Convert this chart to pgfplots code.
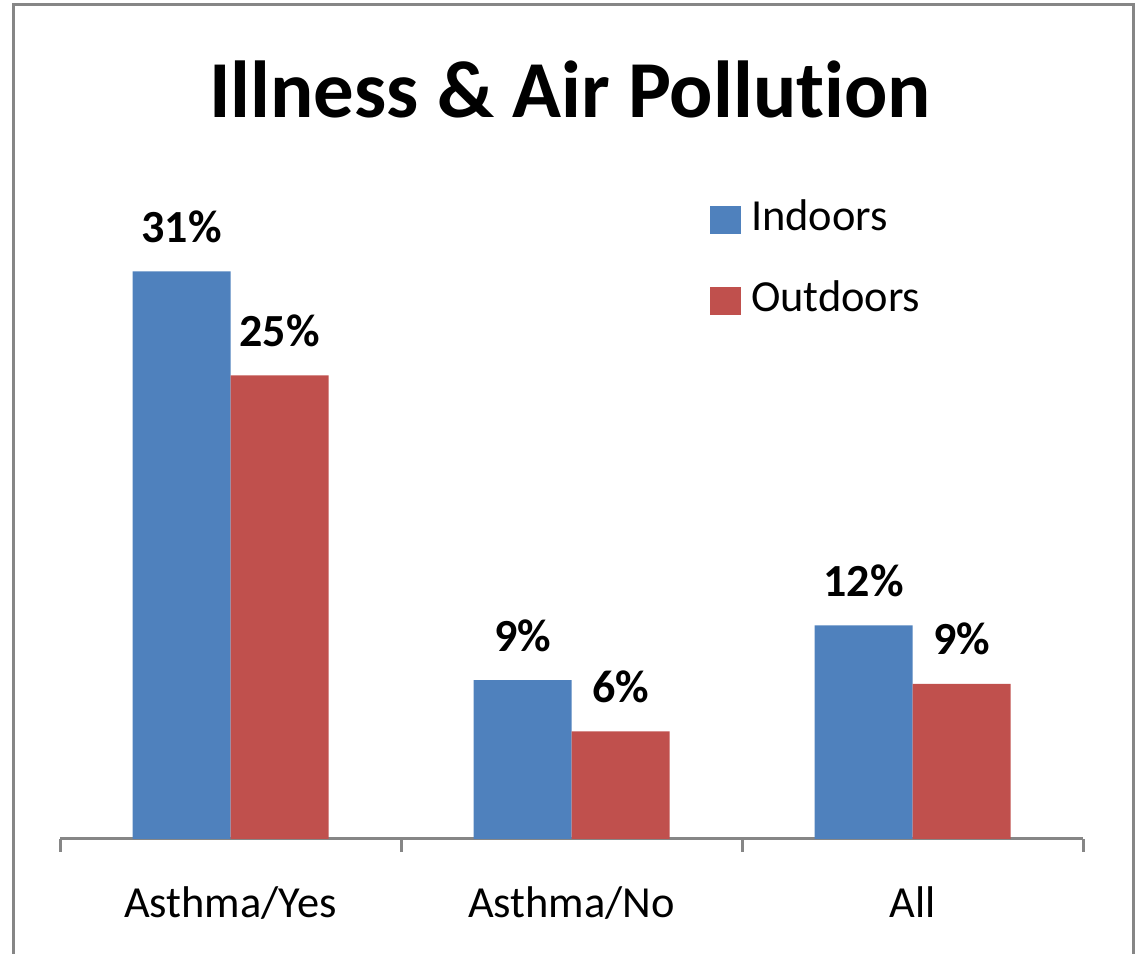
\documentclass[border=0pt]{standalone}
\usepackage{pgfplots}
\pgfplotsset{compat=1.18}
\usepackage{fontspec}
\setmainfont{Carlito}[Ligatures=NoCommon]
\definecolor{cblue}{RGB}{79,129,189}
\definecolor{cred}{RGB}{192,80,77}
\definecolor{cgray}{RGB}{134,134,134}
\pgfplotsset{sqlegend/.style={legend image code/.code={\fill[##1] (0pt,-7pt) rectangle (15.5pt,7pt);}}}
\begin{document}
\begin{tikzpicture}
\useasboundingbox (0,0) rectangle (570pt,476.5pt);
\draw[cgray, line width=1.5pt] (6.5pt,-5pt) -- (6.5pt,474pt) -- (566.5pt,474pt) -- (566.5pt,-5pt);
\node[anchor=base, inner sep=0pt, font=\fontsize{40.4}{46}\selectfont\bfseries] at (285pt,417.5pt) {Illness \& Air Pollution};
\begin{axis}[
  at={(30pt,57pt)}, anchor=south west,
  scale only axis, width=511.5pt, height=319.4pt,
  xmin=-0.5, xmax=2.5, ymin=0, ymax=35,
  axis x line*=bottom, axis y line=none,
  x axis line style={cgray, line width=1.5pt},
  ybar=0pt, bar width=49pt,
  xtick={0,1,2}, xticklabels={Asthma/Yes,Asthma/No,All},
  major tick length=0pt,
  extra x ticks={-0.5,0.5,1.5,2.5}, extra x tick labels={},
  extra x tick style={major tick length=6.5pt, tick align=outside, tick style={cgray, line width=1.5pt}},
  xticklabel style={font=\fontsize{22.2}{26}\selectfont, anchor=base, yshift=-39pt},
  ytick=\empty,
  point meta=explicit symbolic,
  nodes near coords,
  every node near coord/.append style={font=\fontsize{23}{27}\selectfont\bfseries, anchor=base, inner sep=0pt, yshift=14.5pt, color=black},
  legend style={draw=none, fill=none, at={(0.635,0.9975)}, anchor=north west, inner sep=0pt,
    font=\fontsize{22.2}{26}\selectfont, nodes={inner sep=0pt, text height=14pt, text depth=4pt},
    row sep=22.5pt, column sep=5pt},
  legend cell align=left,
]
\addplot[fill=cblue, draw=none, sqlegend]
  coordinates {(0,31.1) [31\%] (1,8.7) [9\%] (2,11.7) [12\%]};
\addplot[fill=cred, draw=none, sqlegend]
  coordinates {(0,25.4) [25\%] (1,5.9) [6\%] (2,8.5) [9\%]};
\legend{Indoors,Outdoors}
\end{axis}
\end{tikzpicture}
\end{document}
